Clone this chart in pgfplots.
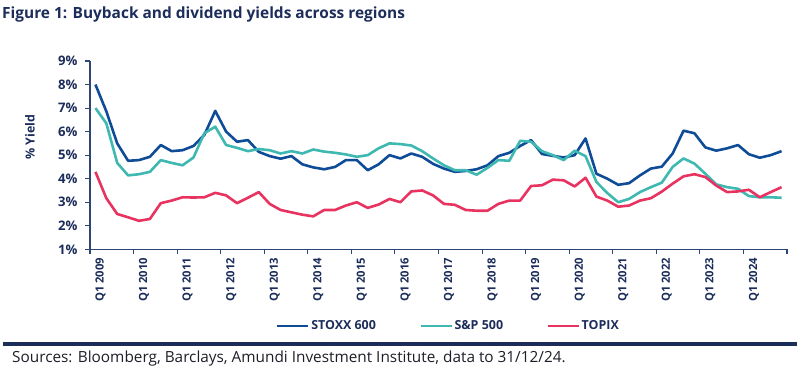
\documentclass[border=0pt]{standalone}
\usepackage{fontspec}
\setmainfont{Open Sans}
\usepackage{pgfplots}
\pgfplotsset{compat=1.18}
\usepackage{pgfplotstable}
\definecolor{stoxx}{RGB}{15,76,151}
\definecolor{spx}{RGB}{62,184,177}
\definecolor{topix}{RGB}{232,50,95}
\definecolor{navy}{RGB}{28,45,90}
\definecolor{axiscol}{RGB}{45,70,115}
\definecolor{srccol}{RGB}{30,30,40}
\pgfplotstableread{
i s p t
0 8.00 7.00 4.29
1 6.86 6.35 3.17
2 5.50 4.67 2.50
3 4.76 4.14 2.36
4 4.79 4.19 2.21
5 4.93 4.29 2.29
6 5.43 4.79 2.96
7 5.17 4.67 3.07
8 5.21 4.57 3.21
9 5.39 4.90 3.20
10 5.86 5.93 3.21
11 6.88 6.21 3.40
12 6.00 5.43 3.29
13 5.57 5.31 2.96
14 5.64 5.17 3.19
15 5.14 5.26 3.43
16 4.96 5.21 2.93
17 4.85 5.07 2.67
18 4.96 5.17 2.57
19 4.61 5.07 2.47
20 4.48 5.24 2.40
21 4.40 5.15 2.67
22 4.50 5.10 2.67
23 4.79 5.03 2.86
24 4.79 4.93 3.00
25 4.36 5.00 2.76
26 4.61 5.29 2.90
27 5.00 5.50 3.14
28 4.86 5.47 3.00
29 5.07 5.41 3.46
30 4.93 5.17 3.50
31 4.63 4.86 3.29
32 4.43 4.57 2.93
33 4.29 4.36 2.89
34 4.33 4.36 2.67
35 4.40 4.17 2.64
36 4.57 4.46 2.64
37 4.96 4.79 2.93
38 5.10 4.76 3.07
39 5.39 5.61 3.07
40 5.64 5.57 3.69
41 5.05 5.17 3.72
42 4.97 5.00 3.96
43 4.90 4.79 3.93
44 5.00 5.19 3.67
45 5.71 4.96 4.04
46 4.21 3.86 3.24
47 4.00 3.39 3.07
48 3.74 3.00 2.81
49 3.81 3.14 2.86
50 4.14 3.43 3.07
51 4.43 3.64 3.17
52 4.51 3.83 3.45
53 5.07 4.50 3.79
54 6.04 4.86 4.10
55 5.93 4.64 4.19
56 5.33 4.21 4.07
57 5.19 3.76 3.71
58 5.29 3.64 3.43
59 5.43 3.57 3.46
60 5.04 3.26 3.53
61 4.89 3.21 3.21
62 5.00 3.21 3.43
63 5.17 3.19 3.64
}\datatable
\begin{document}
\begin{tikzpicture}[x=1bp,y=1bp]
\path[use as bounding box] (0,0) rectangle (800,366);
\node[anchor=base west, inner sep=0, text=navy, font=\bfseries\fontsize{15.5}{18}\selectfont] at (2,348) {Figure 1: Buyback and dividend yields across regions};
\begin{axis}[
  at={(90bp,116.7bp)}, anchor=south west,
  scale only axis, width=697bp, height=188.3bp,
  xmin=-0.5, xmax=63.5, ymin=1, ymax=9,
  axis lines*=left,
  axis line style={draw=axiscol, line width=1.3bp},
  tick align=outside,
  ytick={1,...,9},
  yticklabel={\pgfmathprintnumber{\tick}\%},
  /pgf/number format/assume math mode=true,
  major tick length=5bp, minor tick length=5bp,
  tick style={draw=axiscol, line width=1.1bp},
  every major x tick/.style={draw=none},
  xtick={0,4,...,60},
  minor xtick={-0.5,3.5,...,63.5},
  xticklabels={Q1 2009,Q1 2010,Q1 2011,Q1 2012,Q1 2013,Q1 2014,Q1 2015,Q1 2016,Q1 2017,Q1 2018,Q1 2019,Q1 2020,Q1 2021,Q1 2022,Q1 2023,Q1 2024},
  xticklabel style={rotate=90, anchor=east, font=\bfseries\fontsize{11.3}{13}\selectfont, text=navy, yshift=-5bp},
  yticklabel style={font=\bfseries\fontsize{13.2}{15}\selectfont, text=navy, xshift=-4bp},
  legend style={at={(0.514,-0.407)}, anchor=center, draw=none, fill=none,
    font=\bfseries\fontsize{12.5}{15}\selectfont, text=navy,
    legend columns=3, /tikz/every even column/.append style={column sep=42bp},
    inner sep=0pt, nodes={inner xsep=1.5bp}},
  legend image code/.code={\draw[#1] (0bp,0bp) -- (31bp,0bp);},
  every axis plot/.append style={line width=2.6bp, line join=round},
  clip=false,
]
\addplot[stoxx] table[x=i, y=s] {\datatable};
\addlegendentry{STOXX 600}
\addplot[spx] table[x=i, y=p] {\datatable};
\addlegendentry{S\&P 500}
\addplot[topix] table[x=i, y=t] {\datatable};
\addlegendentry{TOPIX}
\end{axis}
\node[rotate=90, text=navy, font=\bfseries\fontsize{12.5}{14}\selectfont] at (30,229) {\% Yield};
\fill[navy] (3,20.5) rectangle (797,24);
\node[anchor=base west, inner sep=0, text=srccol, font=\fontsize{15.4}{17}\selectfont] at (12,4) {Sources: Bloomberg, Barclays, Amundi Investment Institute, data to 31/12/24.};
\end{tikzpicture}
\end{document}
